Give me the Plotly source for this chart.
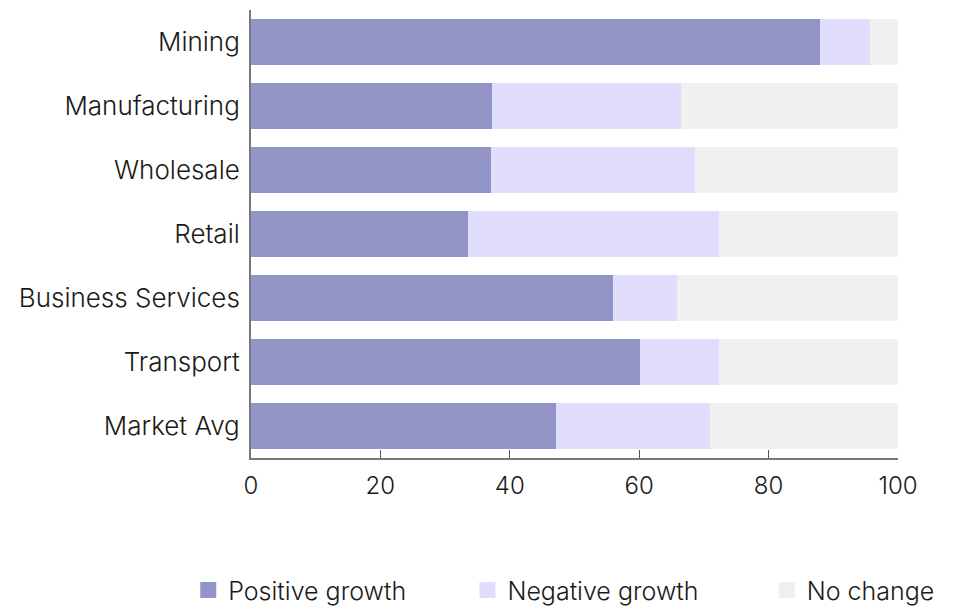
import plotly.graph_objects as go

categories = ["Mining", "Manufacturing", "Wholesale", "Retail", "Business Services", "Transport", "Market Avg"]
positive = [88.0, 37.2, 37.1, 33.6, 56.0, 60.2, 47.1]
negative = [7.6, 29.2, 31.5, 38.7, 9.9, 12.2, 23.8]
no_change = [round(100 - p - n, 1) for p, n in zip(positive, negative)]
series_names = ["Positive growth", "Negative growth", "No change"]
colors = ["#9395c9", "#e0defc", "#f0f0f0"]
x_ticks = [0, 20, 40, 60, 80, 100]

# padding (non-breaking spaces) after legend labels to match the reference spacing
legend_pad = [8, 9, 0]

FONT = "Inter"
fig = go.Figure()
for name, vals, col, pad in zip(series_names, [positive, negative, no_change], colors, legend_pad):
    fig.add_trace(go.Bar(y=categories, x=vals, name=name, orientation="h",
                         marker=dict(color=col, line=dict(width=0)), showlegend=False))
    fig.add_trace(go.Scatter(y=[None], x=[None], mode="markers", name=name + "\u00a0" * pad,
                             marker=dict(symbol="square", size=27, color=col)))

fig.update_layout(
    barmode="stack", bargap=0.27,
    width=975, height=610,
    margin=dict(l=251, r=77, t=10, b=152, autoexpand=False),
    plot_bgcolor="white", paper_bgcolor="white",
    font=dict(family=FONT, size=25, color="#1a1a1a", weight=300),
    legend=dict(orientation="h", x=-0.097, xanchor="left",
                y=-0.295, yanchor="middle",
                itemsizing="trace", font=dict(size=25, weight=300), traceorder="normal",
                itemwidth=30),
)
fig.update_yaxes(categoryorder="array", categoryarray=categories[::-1], showline=True,
                 linecolor="#777777", linewidth=2, ticks="", showgrid=False,
                 range=[-0.5, 6.5], ticklabelstandoff=4, tickfont=dict(size=26))
fig.update_xaxes(range=[0, 100], tickvals=x_ticks, showline=True, linecolor="#777777",
                 linewidth=2, ticks="inside", ticklen=8, tickcolor="#555555",
                 showgrid=False, zeroline=False, ticklabelstandoff=5, tickfont=dict(size=24))
fig.write_html("out.html")
